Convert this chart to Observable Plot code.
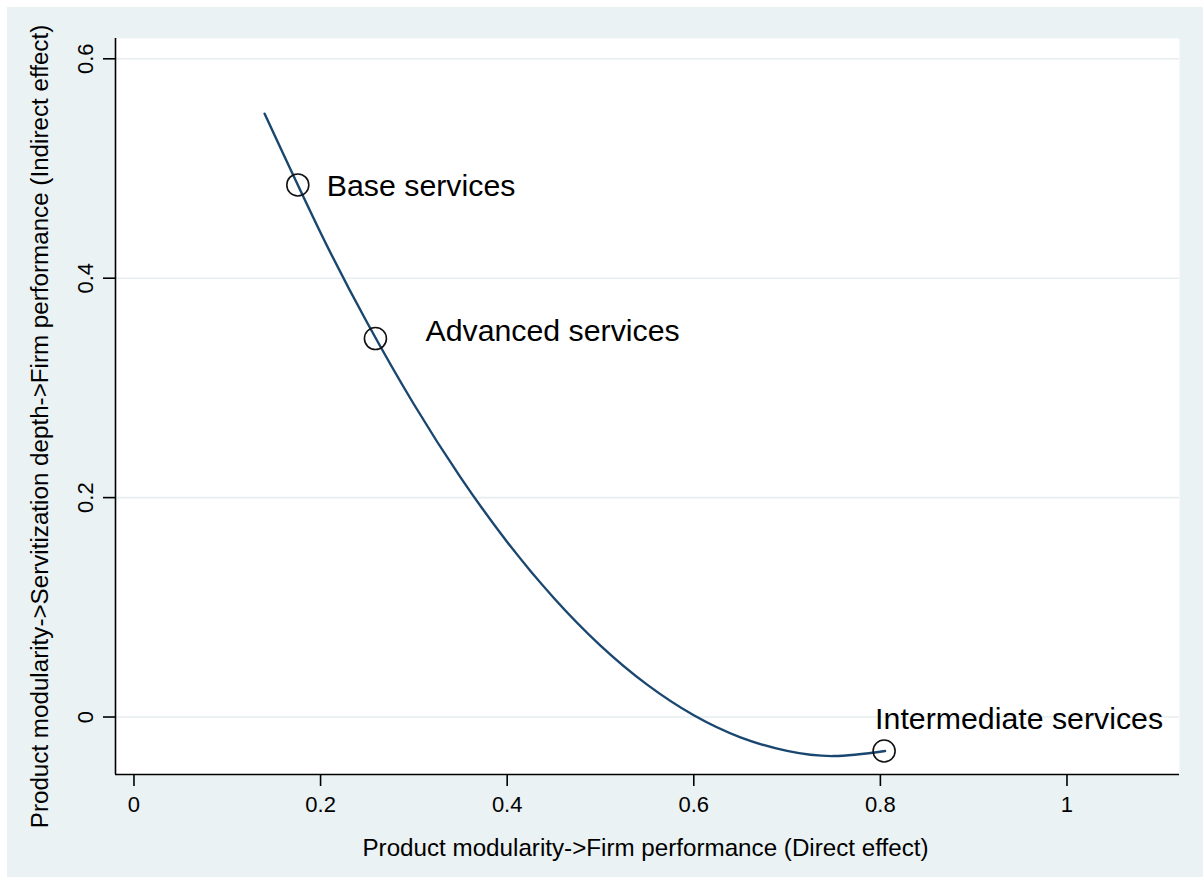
<!DOCTYPE html>
<html>
<head>
<meta charset="utf-8">
<script src="https://cdn.jsdelivr.net/npm/d3@7"></script>
<script src="https://cdn.jsdelivr.net/npm/@observablehq/plot@0.6"></script>
<style>
  html, body { margin: 0; padding: 0; background: #ffffff; overflow: hidden; }
  #wrap { position: relative; width: 1203px; height: 877px; }
  #bg { position: absolute; left: 7px; top: 7px; width: 1196px; height: 870px; background: #eaf2f3; }
  #chart { position: absolute; left: 0; top: 0; }
</style>
</head>
<body>
<div id="wrap"><div id="bg"></div><div id="chart"></div></div>
<script>
// Curve
const curveX = [0.14, 0.2, 0.25, 0.3, 0.35, 0.4, 0.45, 0.5, 0.55, 0.6, 0.65, 0.7, 0.75, 0.805];
const curveY = [0.550, 0.4415, 0.3594, 0.2851, 0.2185, 0.1596, 0.1085, 0.0651, 0.0295, 0.0016, -0.0185, -0.0309, -0.0356, -0.031];

// Labelled points
const pointNames = ["Base services", "Advanced services", "Intermediate services"];
const pointX = [0.1756, 0.2588, 0.804];
const pointY = [0.485, 0.345, -0.031];

// Axes
const xTicks = [0, 0.2, 0.4, 0.6, 0.8, 1];
const yTicks = [0, 0.2, 0.4, 0.6];
const xDomain = [-0.0198, 1.1206];
const yDomain = [-0.0524, 0.6185];
const xTitle = "Product modularity->Firm performance (Direct effect)";
const yTitle = "Product modularity->Servitization depth->Firm performance (Indirect effect)";

const curve = curveX.map((x, i) => ({x, y: curveY[i]}));
const pts = pointNames.map((name, i) => ({name, x: pointX[i], y: pointY[i]}));

const labelOffsets = [
  {dx: 29, dy: 1, anchor: "start"},
  {dx: 50, dy: -7, anchor: "start"},
  {dx: -9, dy: -32, anchor: "start"}
];

const font = "'Liberation Sans', Arial, Helvetica, sans-serif";

const chart = Plot.plot({
  width: 1203,
  height: 877,
  marginLeft: 115,
  marginRight: 24,
  marginTop: 38,
  marginBottom: 103,
  style: {background: "transparent", fontFamily: font, color: "black", overflow: "visible"},
  x: {domain: xDomain},
  y: {domain: yDomain},
  marks: [
    Plot.frame({fill: "white", stroke: null}),
    Plot.gridY(yTicks, {stroke: "#e6eef0", strokeOpacity: 1, strokeWidth: 1.6}),
    Plot.ruleX([xDomain[0]], {stroke: "black", strokeWidth: 1.6}),
    Plot.ruleY([yDomain[0]], {stroke: "black", strokeWidth: 1.6}),
    Plot.axisX(xTicks, {tickSize: 12, tickPadding: 10, fontSize: 22, tickFormat: d => String(d), label: null, stroke: "black", strokeWidth: 1.6, fill: "black"}),
    Plot.axisY(yTicks, {tickSize: 12, tickFormat: () => "", label: null, stroke: "black", strokeWidth: 1.6}),
    Plot.text(yTicks, {y: d => d, frameAnchor: "left", dx: -23, rotate: -90, text: d => String(d), textAnchor: "middle", lineAnchor: "bottom", fontSize: 22, fill: "black"}),
    Plot.text([xTitle], {frameAnchor: "bottom", dx: -2, dy: 81, text: d => d, lineAnchor: "bottom", textAnchor: "middle", fontSize: 24.2, fill: "black"}),
    Plot.text([yTitle], {frameAnchor: "left", dx: -68, dy: 20, rotate: -90, text: d => d, lineAnchor: "bottom", textAnchor: "middle", fontSize: 24.2, fill: "black"}),
    Plot.line(curve, {x: "x", y: "y", curve: "natural", stroke: "#1a476f", strokeWidth: 2.4}),
    Plot.dot(pts, {x: "x", y: "y", r: 11, stroke: "#111", strokeWidth: 1.6, fill: "none"}),
    ...pts.map((p, i) => Plot.text([p], {x: "x", y: "y", text: "name", dx: labelOffsets[i].dx, dy: labelOffsets[i].dy, textAnchor: labelOffsets[i].anchor, lineAnchor: "middle", fontSize: 30.3, fill: "black"}))
  ]
});
document.getElementById("chart").appendChild(chart);
</script>
</body>
</html>
